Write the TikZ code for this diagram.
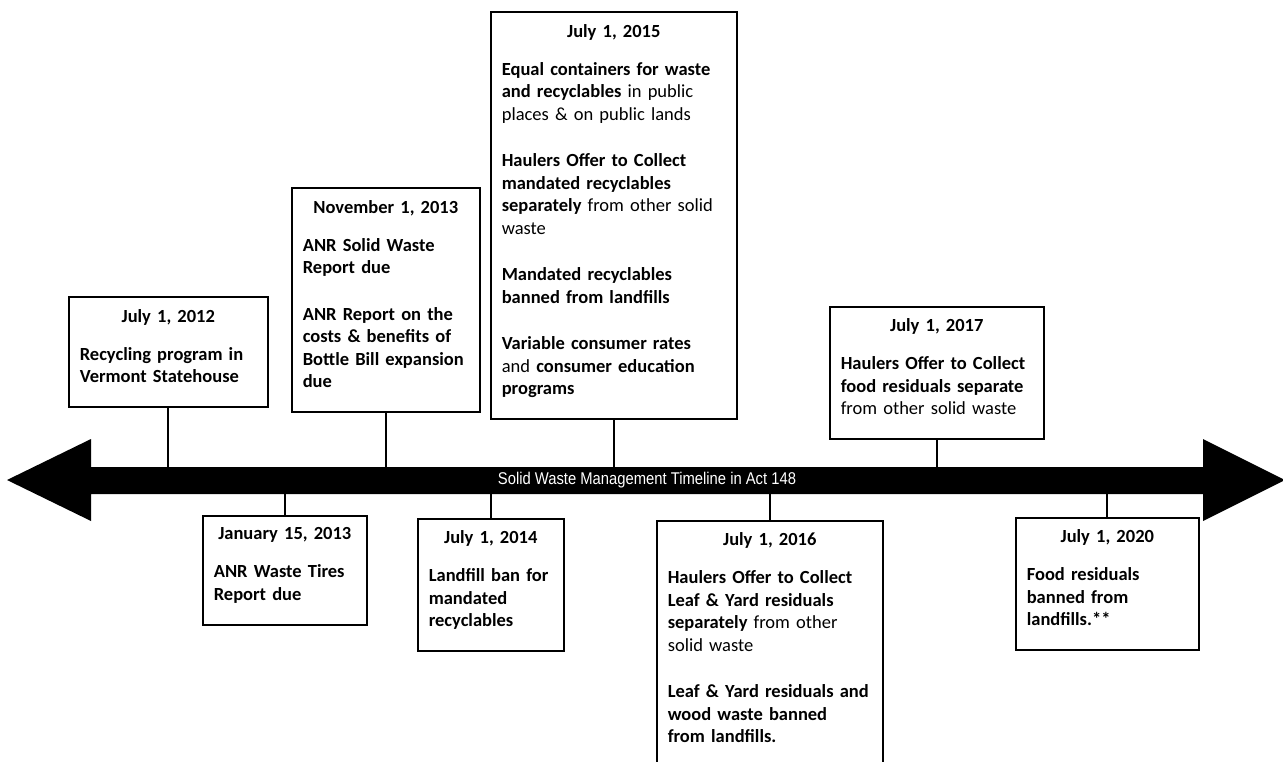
\documentclass[tikz,border=0pt]{standalone}
\usepackage{fontspec}
\setmainfont{Carlito}
\newfontfamily\bannerfont{Liberation Sans}
\newcommand{\evdate}[1]{\makebox[\linewidth]{\textbf{#1}}\\[15.5pt]}
\newcommand{\evend}{\\[-10pt]\mbox{}}
\begin{document}
\begin{tikzpicture}[x=1pt,y=-1pt,
    evbox/.style={draw, line width=1.6pt, align=left, inner xsep=11pt, inner ysep=12pt,
      font=\fontsize{18.5}{22.5}\selectfont},
    stem/.style={line width=2pt}]
  \useasboundingbox (0,0) rectangle (1283,761);
  % timeline arrow
  \fill (7,480) -- (91,439) -- (91,467) -- (1203,467) -- (1203,439) -- (1285,480)
    -- (1203,521) -- (1203,494) -- (91,494) -- (91,521) -- cycle;
  \coordinate (bartop) at (0,467);
  \coordinate (barbot) at (0,494);
  \node[text=white, font=\bannerfont\fontsize{17}{19}\selectfont] (banner) at (647,480)
    {\scalebox{0.87}[1]{Solid Waste Management Timeline in Act 148}};
  % above the line
  \node[evbox, text width=177pt, anchor=south west] (y2012) at (68,408)
    {\evdate{July 1, 2012}\textbf{Recycling program in\\Vermont Statehouse}\evend};
  \node[evbox, text width=166pt, anchor=south west] (y2013b) at (291,413)
    {\evdate{November 1, 2013}\textbf{ANR Solid Waste\\Report due}\\[24pt]%
     \textbf{ANR Report on the\\costs \& benefits of\\Bottle Bill expansion\\due}\evend};
  \node[evbox, text width=224pt, anchor=south west] (y2015) at (490,420)
    {\evdate{July 1, 2015}\textbf{Equal containers for waste\\and recyclables} in public\\places \& on public lands\\[24pt]%
     \textbf{Haulers Offer to Collect\\mandated recyclables\\separately} from other solid\\waste\\[24pt]%
     \textbf{Mandated recyclables\\banned from landfills}\\[24pt]%
     \textbf{Variable consumer rates}\\and \textbf{consumer education\\programs}\evend};
  \node[evbox, text width=192pt, anchor=south west] (y2017) at (829,440)
    {\evdate{July 1, 2017}\textbf{Haulers Offer to Collect\\food residuals separate}\\from other solid waste\evend};
  % below the line
  \node[evbox, text width=142pt, anchor=north west] (y2013a) at (202,515)
    {\evdate{January 15, 2013}\textbf{ANR Waste Tires\\Report due}\evend};
  \node[evbox, text width=124pt, anchor=north west] (y2014) at (417,518)
    {\evdate{July 1, 2014}\textbf{Landfill ban for\\mandated\\recyclables}\evend};
  \node[evbox, text width=204pt, anchor=north west] (y2016) at (656,520)
    {\evdate{July 1, 2016}\textbf{Haulers Offer to Collect\\Leaf \& Yard residuals\\separately} from other\\solid waste\\[24pt]%
     \textbf{Leaf \& Yard residuals and\\wood waste banned\\from landfills.}\evend};
  \node[evbox, text width=161pt, anchor=north west] (y2020) at (1015,517)
    {\evdate{July 1, 2020}\textbf{Food residuals\\banned from\\landfills.**}\evend};
  % stems to the line
  \foreach \b in {y2012,y2013b,y2015,y2017}
    \draw[stem] (\b.south) -- (\b.south |- bartop);
  \foreach \b in {y2013a,y2014,y2016,y2020}
    \draw[stem] (\b.north) -- (\b.north |- barbot);
\end{tikzpicture}
\end{document}
